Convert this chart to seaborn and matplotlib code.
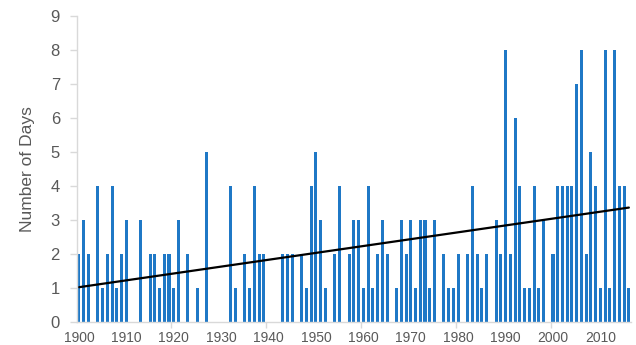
import matplotlib
matplotlib.use("Agg")
import matplotlib.pyplot as plt
from matplotlib.ticker import FixedLocator
import seaborn as sns
import numpy as np
import pandas as pd

years = list(range(1900, 2017))
days = [
    2, 3, 2, 0, 4, 1, 2, 4, 1, 2,   # 1900-1909
    3, 0, 0, 3, 0, 2, 2, 1, 2, 2,   # 1910-1919
    1, 3, 0, 2, 0, 1, 0, 5, 0, 0,   # 1920-1929
    0, 0, 4, 1, 0, 2, 1, 4, 2, 2,   # 1930-1939
    0, 0, 0, 2, 2, 2, 0, 2, 1, 4,   # 1940-1949
    5, 3, 1, 0, 2, 4, 0, 2, 3, 3,   # 1950-1959
    1, 4, 1, 2, 3, 2, 0, 1, 3, 2,   # 1960-1969
    3, 1, 3, 3, 1, 3, 0, 2, 1, 1,   # 1970-1979
    2, 0, 2, 4, 2, 1, 2, 0, 3, 2,   # 1980-1989
    8, 2, 6, 4, 1, 1, 4, 1, 3, 0,   # 1990-1999
    2, 4, 4, 4, 4, 7, 8, 2, 5, 4,   # 2000-2009
    1, 8, 1, 8, 4, 4, 1,            # 2010-2016
]
tick_years = [1900, 1910, 1920, 1930, 1940, 1950, 1960, 1970, 1980, 1990, 2000, 2010]
y_ticks = [0, 1, 2, 3, 4, 5, 6, 7, 8, 9]
y_label = "Number of Days"

df = pd.DataFrame({"year": years, "days": days})

sns.set_style("white")
plt.rcParams["font.family"] = ["Liberation Sans", "DejaVu Sans"]

fig = plt.figure(figsize=(6.36, 3.45), dpi=100)
ax = fig.add_axes([0.1204, 0.0675, 0.8721, 0.8861])

sns.barplot(data=df, x="year", y="days", native_scale=True, color="#1f78c6",
            width=0.64, saturation=1, linewidth=0, ax=ax)
sns.regplot(data=df, x="year", y="days", scatter=False, ci=None, truncate=True,
            color="black", line_kws={"linewidth": 1.6}, ax=ax)

ax.set_xlim(1899.5, 2016.5)
ax.set_ylim(0, 9)
ax.set_xticks(tick_years)
ax.set_xticklabels([str(t) for t in tick_years])
ax.xaxis.set_minor_locator(FixedLocator([1919.5, 1939.5, 1959.5, 1979.5, 1999.5]))
ax.set_yticks(y_ticks)
ax.set_xlabel("")
ax.set_ylabel(y_label, fontsize=12.5, color="#595959", labelpad=11)

grey = "#d9d9d9"
for s in ["top", "right"]:
    ax.spines[s].set_visible(False)
for s in ["left", "bottom"]:
    ax.spines[s].set_color(grey)
    ax.spines[s].set_linewidth(1.0)

ax.tick_params(axis="y", which="major", length=5, width=1, color=grey,
               labelsize=12, labelcolor="#595959", pad=7, left=True)
ax.tick_params(axis="x", which="major", length=0, labelsize=10,
               labelcolor="#595959", pad=7)
ax.tick_params(axis="x", which="minor", length=4, width=1, color=grey, bottom=True)

fig.savefig("out.png", dpi=100)
